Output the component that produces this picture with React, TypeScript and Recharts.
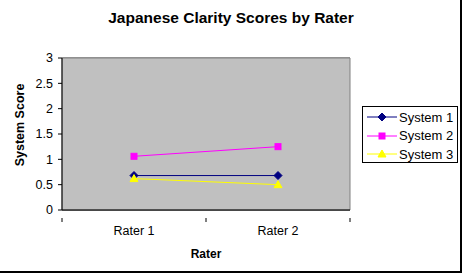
import React from 'react'
import { LineChart, Line, XAxis, YAxis, CartesianGrid, ReferenceArea } from 'recharts'

const raters = ['Rater 1', 'Rater 2']
const system1 = [0.68, 0.68]
const system2 = [1.06, 1.25]
const system3 = [0.62, 0.5]
const yTicks = [0, 0.5, 1, 1.5, 2, 2.5, 3]

const series = [
  { key: 'system1', name: 'System 1', color: '#000080', shape: 'diamond' },
  { key: 'system2', name: 'System 2', color: '#FF00FF', shape: 'square' },
  { key: 'system3', name: 'System 3', color: '#FFFF00', shape: 'triangle' },
]

const data = raters.map((r, i) => ({
  x: i + 0.5,
  rater: r,
  system1: system1[i],
  system2: system2[i],
  system3: system3[i],
}))

const FONT = '"Liberation Sans", Arial, sans-serif'

function MarkerShape({ cx, cy, shape, color }: { cx: number; cy: number; shape: string; color: string }) {
  if (shape === 'diamond') {
    return <polygon points={`${cx},${cy - 4} ${cx + 4},${cy} ${cx},${cy + 4} ${cx - 4},${cy}`} fill={color} stroke={color} />
  }
  if (shape === 'square') {
    return <rect x={cx - 3} y={cy - 3} width={6} height={6} fill={color} stroke={color} />
  }
  return <polygon points={`${cx},${cy - 4} ${cx + 4},${cy + 3} ${cx - 4},${cy + 3}`} fill={color} stroke={color} />
}

function makeDot(shape: string, color: string) {
  return (props: any) => <MarkerShape key={props.index} cx={props.cx} cy={props.cy} shape={shape} color={color} />
}

// ticks at category bounds get a tick mark, ticks at centers get a label
function XTick(props: any) {
  const { x, y, payload } = props
  const v = payload.value
  if (Number.isInteger(v)) {
    return <line x1={x} x2={x} y1={y} y2={y + 4} stroke="#000" />
  }
  const label = raters[Math.floor(v)]
  return (
    <text x={x} y={y + 17} textAnchor="middle" fontSize={12.5} fontFamily={FONT} fill="#000">
      {label}
    </text>
  )
}

function XLabel(props: any) {
  const { viewBox } = props
  return (
    <text x={viewBox.x + viewBox.width / 2} y={viewBox.y + 48} textAnchor="middle" fontSize={12} fontWeight="bold" fontFamily={FONT} fill="#000">
      Rater
    </text>
  )
}

function YLabel() {
  return (
    <text x={24} y={125} transform="rotate(-90, 24, 125)" textAnchor="middle" fontSize={12.5} fontWeight="bold" fontFamily={FONT} fill="#000">
      System Score
    </text>
  )
}

function LegendBox() {
  return (
    <div
      style={{
        position: 'absolute',
        left: 362,
        top: 106,
        border: '1px solid #000',
        background: '#fff',
        width: 96,
        height: 57,
        boxSizing: 'border-box',
        padding: '1px 0 0 4px',
        fontFamily: FONT,
        fontSize: 13,
      }}
    >
      {series.map(s => (
        <div key={s.key} style={{ display: 'flex', alignItems: 'center', height: 18.5 }}>
          <svg width={30} height={12}>
            <line x1={0} x2={30} y1={6} y2={6} stroke={s.color} strokeWidth={1} />
            <MarkerShape cx={15} cy={6} shape={s.shape} color={s.color} />
          </svg>
          <span style={{ marginLeft: 2 }}>{s.name}</span>
        </div>
      ))}
    </div>
  )
}

export default function App() {
  return (
    <div style={{ position: 'relative', width: 470, height: 274, background: '#fff', fontFamily: FONT }}>
      <style>{'body{margin:0}'}</style>
      <div
        style={{
          position: 'absolute',
          left: 0,
          top: 0,
          width: 460,
          height: 271,
          borderRight: '2px solid #000',
          borderBottom: '2px solid #000',
        }}
      />
      <div
        style={{
          position: 'absolute',
          left: 0,
          width: 462,
          top: 9,
          textAlign: 'center',
          fontWeight: 'bold',
          fontSize: 15.5,
        }}
      >
        Japanese Clarity Scores by Rater
      </div>
      <div style={{ position: 'absolute', left: 0, top: 0 }}>
        <LineChart width={470} height={274} data={data} margin={{ top: 58, right: 120, bottom: 0, left: 0 }}>
          <ReferenceArea x1={0} x2={2} y1={0} y2={3} fill="#C0C0C0" fillOpacity={1} stroke="#808080" strokeWidth={1} />
          <CartesianGrid horizontal vertical={false} stroke="#000" strokeOpacity={0.75} />
          <XAxis
            dataKey="x"
            type="number"
            domain={[0, 2]}
            ticks={[0, 0.5, 1, 1.5, 2]}
            tick={<XTick />}
            tickLine={false}
            axisLine={{ stroke: '#000' }}
            interval={0}
            height={64}
            label={<XLabel />}
          />
          <YAxis
            domain={[0, 3]}
            ticks={yTicks}
            width={62}
            tickSize={4}
            tickMargin={5}
            interval={0}
            tick={{ fontSize: 12.5, fill: '#000', fontFamily: FONT }}
            tickLine={{ stroke: '#000' }}
            axisLine={{ stroke: '#000' }}
            label={<YLabel />}
          />
          {series.map(s => (
            <Line
              key={s.key}
              dataKey={s.key}
              name={s.name}
              stroke={s.color}
              strokeWidth={1}
              dot={makeDot(s.shape, s.color)}
              activeDot={false}
              isAnimationActive={false}
            />
          ))}
        </LineChart>
      </div>
      <LegendBox />
    </div>
  )
}
